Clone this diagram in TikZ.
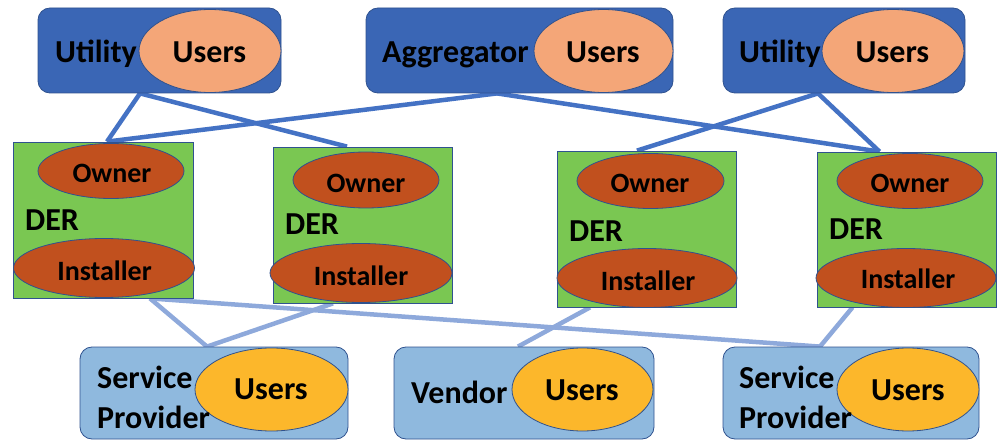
\documentclass[tikz,border=0pt]{standalone}
\usepackage{fontspec}
\setmainfont{Carlito}
\usetikzlibrary{backgrounds}
\definecolor{topfill}{RGB}{58,102,181}
\definecolor{edgeblue}{RGB}{47,82,143}
\definecolor{peach}{RGB}{244,166,120}
\definecolor{dergreen}{RGB}{122,199,82}
\definecolor{rust}{RGB}{193,80,30}
\definecolor{botfill}{RGB}{143,185,222}
\definecolor{gold}{RGB}{252,183,43}
\definecolor{linetop}{RGB}{68,114,196}
\definecolor{linebot}{RGB}{142,169,219}
\tikzset{
  topbox/.style={draw=edgeblue, line width=0.8pt, fill=topfill, rounded corners=12pt, minimum height=85pt, inner sep=0pt},
  botbox/.style={draw=edgeblue, line width=0.8pt, fill=botfill, rounded corners=12pt, minimum height=92pt, inner sep=0pt},
  derbox/.style={draw=edgeblue, line width=0.8pt, fill=dergreen, inner sep=0pt},
  ell/.style={ellipse, draw=edgeblue, line width=0.8pt, inner sep=0pt},
  topell/.style={ell, fill=peach, minimum height=83pt},
  botell/.style={ell, fill=gold, minimum height=83pt},
  rustell/.style={ell, fill=rust},
  big/.style={font=\fontsize{32}{34}\selectfont\bfseries, inner sep=0pt},
  small/.style={font=\fontsize{28}{30}\selectfont\bfseries, inner sep=0pt},
  toplink/.style={draw=linetop, line width=4.5pt},
  botlink/.style={draw=linebot, line width=4.5pt},
}
\usetikzlibrary{shapes.geometric}
\begin{document}
\begin{tikzpicture}[x=1pt, y=-1pt]
\useasboundingbox (0,0) rectangle (997,441);
% top row
\node[topbox, minimum width=243pt] (u1) at (159.5,50.5) {};
\node[topell, minimum width=142pt] (e1) at (210,51) {};
\node[big, anchor=base west] (tu1) at (55,63) {Utility};
\node[big, anchor=base] (te1) at (209.5,63) {Users};
\node[topbox, minimum width=307pt] (agg) at (519.5,50.5) {};
\node[topell, minimum width=139pt] (e2) at (603.5,51) {};
\node[big, anchor=base west] (tagg) at (382,63) {Aggregator};
\node[big, anchor=base] (te2) at (603,63) {Users};
\node[topbox, minimum width=242pt] (u2) at (844,50.5) {};
\node[topell, minimum width=142pt] (e3) at (893,51) {};
\node[big, anchor=base west] (tu2) at (739,63) {Utility};
\node[big, anchor=base] (te3) at (892.5,63) {Users};
% DER row
\node[derbox, minimum width=180pt, minimum height=156pt] (d1) at (103,220) {};
\node[rustell, minimum width=146pt, minimum height=55pt] (o1) at (111,171) {};
\node[rustell, minimum width=181pt, minimum height=59pt] (i1) at (104,268) {};
\node[small, anchor=base] (to1) at (112,183) {Owner};
\node[big, anchor=base west] (td1) at (25,231) {DER};
\node[small, anchor=base] (ti1) at (104.5,280) {Installer};
\node[derbox, minimum width=179pt, minimum height=156pt] (d2) at (362.5,225) {};
\node[rustell, minimum width=146pt, minimum height=56pt] (o2) at (366,180) {};
\node[rustell, minimum width=182pt, minimum height=59pt] (i2) at (361,273) {};
\node[small, anchor=base] (to2) at (366,193) {Owner};
\node[big, anchor=base west] (td2) at (285,234) {DER};
\node[small, anchor=base] (ti2) at (361,285) {Installer};
\node[derbox, minimum width=179pt, minimum height=156pt] (d3) at (646.5,229) {};
\node[rustell, minimum width=147pt, minimum height=55pt] (o3) at (650.5,181) {};
\node[rustell, minimum width=180pt, minimum height=59pt] (i3) at (647,278) {};
\node[small, anchor=base] (to3) at (650,193) {Owner};
\node[big, anchor=base west] (td3) at (569,241) {DER};
\node[small, anchor=base] (ti3) at (648,290) {Installer};
\node[derbox, minimum width=179pt, minimum height=155pt] (d4) at (906.5,229.5) {};
\node[rustell, minimum width=146pt, minimum height=55pt] (o4) at (910,181) {};
\node[rustell, minimum width=180pt, minimum height=59pt] (i4) at (906,278) {};
\node[small, anchor=base] (to4) at (910,193) {Owner};
\node[big, anchor=base west] (td4) at (829,240) {DER};
\node[small, anchor=base] (ti4) at (908,288) {Installer};
% bottom row
\node[botbox, minimum width=268pt] (s1) at (214,393) {};
\node[botell, minimum width=153pt] (b1) at (271.5,389.5) {};
\node[big, anchor=base west] (ts1a) at (97,388) {Service};
\node[big, anchor=base west] (ts1b) at (97,428) {Provider};
\node[big, anchor=base] (tb1) at (271,399) {Users};
\node[botbox, minimum width=260pt] (v) at (524,393) {};
\node[botell, minimum width=141pt] (b2) at (582.5,389.5) {};
\node[big, anchor=base west] (tv) at (411,403) {Vendor};
\node[big, anchor=base] (tb2) at (582,400) {Users};
\node[botbox, minimum width=256pt] (s2) at (851,393) {};
\node[botell, minimum width=142pt] (b3) at (908,389.5) {};
\node[big, anchor=base west] (ts2a) at (739,388) {Service};
\node[big, anchor=base west] (ts2b) at (739,428) {Provider};
\node[big, anchor=base] (tb3) at (908,400) {Users};
% connectors
\begin{pgfonlayer}{background}
\path[toplink] ([xshift=-19.5pt]u1.south) -- ([xshift=4pt]d1.north);
\path[toplink] ([xshift=-19.5pt]u1.south) -- ([xshift=-15.5pt]d2.north);
\path[toplink] ([xshift=-22.5pt]agg.south) -- ([xshift=4pt]d1.north);
\path[toplink] ([xshift=-22.5pt]agg.south) -- ([xshift=-27pt]d4.north);
\path[toplink] ([xshift=-26pt]u2.south) -- ([xshift=-9.5pt]d3.north);
\path[toplink] ([xshift=-26pt]u2.south) -- ([xshift=-27pt]d4.north);
\path[botlink] ([xshift=47pt]d1.south) -- ([xshift=-7pt]s1.north);
\path[botlink] ([xshift=47pt]d1.south) -- ([xshift=-31pt]s2.north);
\path[botlink] ([xshift=-29.5pt]d2.south) -- ([xshift=-7pt]s1.north);
\path[botlink] ([xshift=-56.5pt]d3.south) -- ([xshift=-6pt]v.north);
\path[botlink] ([xshift=-54pt]d4.south) -- ([xshift=-31pt]s2.north);
\end{pgfonlayer}
\end{tikzpicture}
\end{document}
